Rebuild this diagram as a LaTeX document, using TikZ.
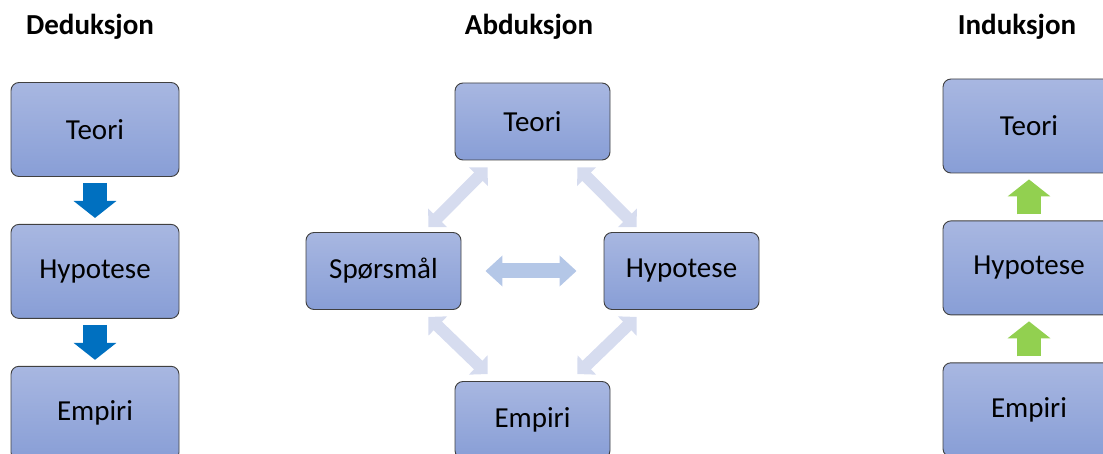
\documentclass[tikz,border=0pt]{standalone}
\usepackage{fontspec}
\setmainfont{Carlito}
\usetikzlibrary{arrows.meta,positioning}
\definecolor{boxtop}{RGB}{168,183,225}
\definecolor{boxbot}{RGB}{136,158,214}
\definecolor{dedblue}{RGB}{0,112,192}
\definecolor{indgreen}{RGB}{146,208,80}
\definecolor{abdpale}{RGB}{214,220,239}
\definecolor{abdmid}{RGB}{180,199,231}
\begin{document}
\begin{tikzpicture}[
  x=1pt,y=-1pt,
  node distance=47pt,
  box/.style={draw=black!75,line width=0.9pt,rounded corners=8pt,top color=boxtop,bottom color=boxbot,minimum width=168pt,minimum height=94pt,inner sep=0pt,font=\fontsize{29}{34}\selectfont},
  midbox/.style={box,minimum width=155pt,minimum height=77pt},
  title/.style={font=\fontsize{29}{34}\selectfont\bfseries},
  downarr/.style={-{Triangle[length=17pt,width=42pt]},line width=24pt,dedblue,shorten <=6pt,shorten >=6pt},
  uparr/.style={downarr,indgreen},
  dblarr/.style={{Triangle[length=17pt,width=30pt]}-{Triangle[length=17pt,width=30pt]},line width=15pt,abdmid},
  diagarr/.style={{Triangle[length=13pt,width=26pt]}-{Triangle[length=13pt,width=26pt]},line width=12pt,abdpale},
]
\clip (0,0) rectangle (1103,454);
% titles
\node[title] (tded) at (90,27) {Deduksjon};
\node[title] (tabd) at (529,27) {Abduksjon};
\node[title] (tind) at (1017,27) {Induksjon};
% deduksjon
\node[box] (dteori) at (95,129.5) {Teori};
\node[box,below=of dteori] (dhyp) {Hypotese};
\node[box,below=of dhyp] (dempiri) {Empiri};
\draw[downarr] (dteori) -- (dhyp);
\draw[downarr] (dhyp) -- (dempiri);
% abduksjon
\node[midbox] (ateori) at (532.5,121.5) {Teori};
\node[midbox] (asporsmal) at (383.5,271) {Spørsmål};
\node[midbox] (ahyp) at (681.5,271) {Hypotese};
\node[midbox] (aempiri) at (532.5,420) {Empiri};
\draw[dblarr,shorten <=24pt,shorten >=27pt] (asporsmal) -- (ahyp);
\draw[diagarr] ([xshift=33pt,yshift=-7pt]ateori.south west) -- ([xshift=-33pt,yshift=5pt]asporsmal.north east);
\draw[diagarr] ([xshift=-33pt,yshift=-7pt]ateori.south east) -- ([xshift=33pt,yshift=5pt]ahyp.north west);
\draw[diagarr] ([xshift=-33pt,yshift=-7pt]asporsmal.south east) -- ([xshift=33pt,yshift=7pt]aempiri.north west);
\draw[diagarr] ([xshift=33pt,yshift=-7pt]ahyp.south west) -- ([xshift=-33pt,yshift=7pt]aempiri.north east);
% induksjon
\node[box,minimum width=172pt] (rteori) at (1029,126) {Teori};
\node[box,minimum width=172pt,below=of rteori] (rhyp) {Hypotese};
\node[box,minimum width=172pt,below=of rhyp] (rempiri) {Empiri};
\draw[uparr] (rhyp) -- (rteori);
\draw[uparr] (rempiri) -- (rhyp);
\end{tikzpicture}
\end{document}
